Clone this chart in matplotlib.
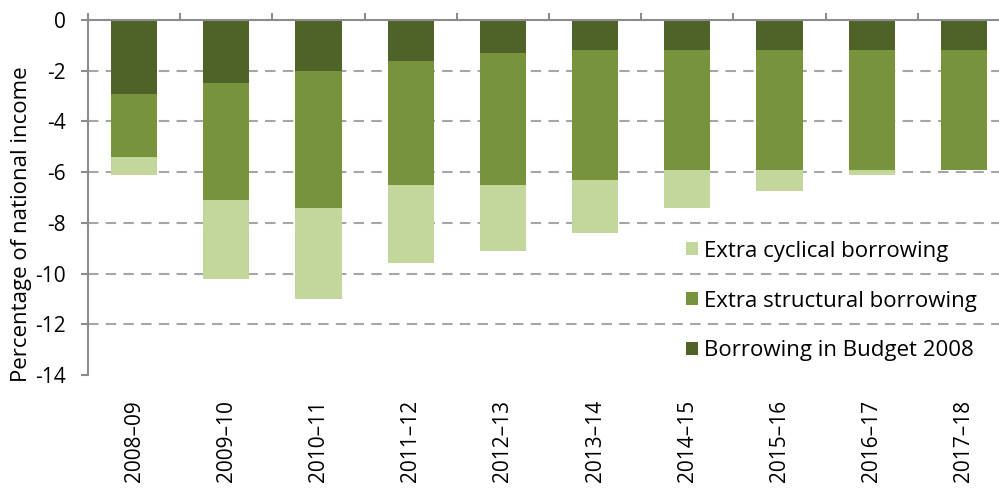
import numpy as np
import matplotlib
matplotlib.use("Agg")
import matplotlib.pyplot as plt

plt.rcParams['font.family'] = ['Open Sans', 'DejaVu Sans']

# Financial years and borrowing components (% of national income)
years = ['2008–09', '2009–10', '2010–11', '2011–12', '2012–13',
         '2013–14', '2014–15', '2015–16', '2016–17', '2017–18']
budget_2008 = [-2.9, -2.5, -2.0, -1.6, -1.3, -1.2, -1.2, -1.2, -1.2, -1.2]
structural = [-2.5, -4.6, -5.4, -4.9, -5.2, -5.1, -4.7, -4.7, -4.7, -4.7]
cyclical = [-0.7, -3.1, -3.6, -3.1, -2.6, -2.1, -1.5, -0.85, -0.2, 0.0]

c_dark = '#4f6228'
c_mid = '#77933c'
c_light = '#c3d69b'
grey = '#8c8c8c'

fig = plt.figure(figsize=(9.99, 4.9), dpi=100)
ax = fig.add_axes([88 / 999, 115 / 490, 922 / 999, 355 / 490])

x = np.arange(len(years))
b1 = np.array(budget_2008)
b2 = b1 + np.array(structural)

ax.bar(x, budget_2008, width=0.5, color=c_dark, label='Borrowing in Budget 2008', zorder=3)
ax.bar(x, structural, width=0.5, bottom=b1, color=c_mid, label='Extra structural borrowing', zorder=3)
ax.bar(x, cyclical, width=0.5, bottom=b2, color=c_light, label='Extra cyclical borrowing', zorder=3)

ax.set_xlim(-0.5, len(years) - 0.5)
ax.set_ylim(-14, 0)
ax.set_yticks(np.arange(-14, 1, 2))
ax.set_yticklabels([str(v) for v in range(-14, 1, 2)])

# dashed gridlines
for v in range(-12, 0, 2):
    ax.axhline(v, color='#a6a6a6', lw=1.5, ls=(0, (5, 3.5)), zorder=1)

for side in ['right', 'bottom']:
    ax.spines[side].set_visible(False)
for side in ['left', 'top']:
    ax.spines[side].set_color(grey)
    ax.spines[side].set_linewidth(1.5)
ax.spines['top'].set_zorder(4)

# category labels below, boundary ticks on the zero line
ax.set_xticks(x)
ax.set_xticklabels(years, rotation=90, fontsize=15)
ax.tick_params(axis='x', which='major', bottom=False, top=False, length=0, pad=18)
ax.set_xticks(np.arange(-0.5, len(years), 1), minor=True)
ax.tick_params(axis='x', which='minor', top=True, bottom=False, direction='out',
               length=5, width=1.5, color=grey)
ax.tick_params(axis='y', direction='out', length=5, width=1.5, color=grey,
               labelsize=15, pad=11)

fig.text(22 / 999, 1 - 224 / 490, 'Percentage of national income', rotation=90,
         ha='center', va='center', fontsize=16)

handles, labels = ax.get_legend_handles_labels()
ax.legend(handles[::-1], labels[::-1], loc='center left',
          bbox_to_anchor=(686 / 999, 1 - 301 / 490), bbox_transform=fig.transFigure,
          frameon=False, fontsize=16, handlelength=0.54, handleheight=0.54,
          handletextpad=0.25, labelspacing=1.3, borderpad=0, borderaxespad=0)

fig.savefig('out.png', dpi=100)
